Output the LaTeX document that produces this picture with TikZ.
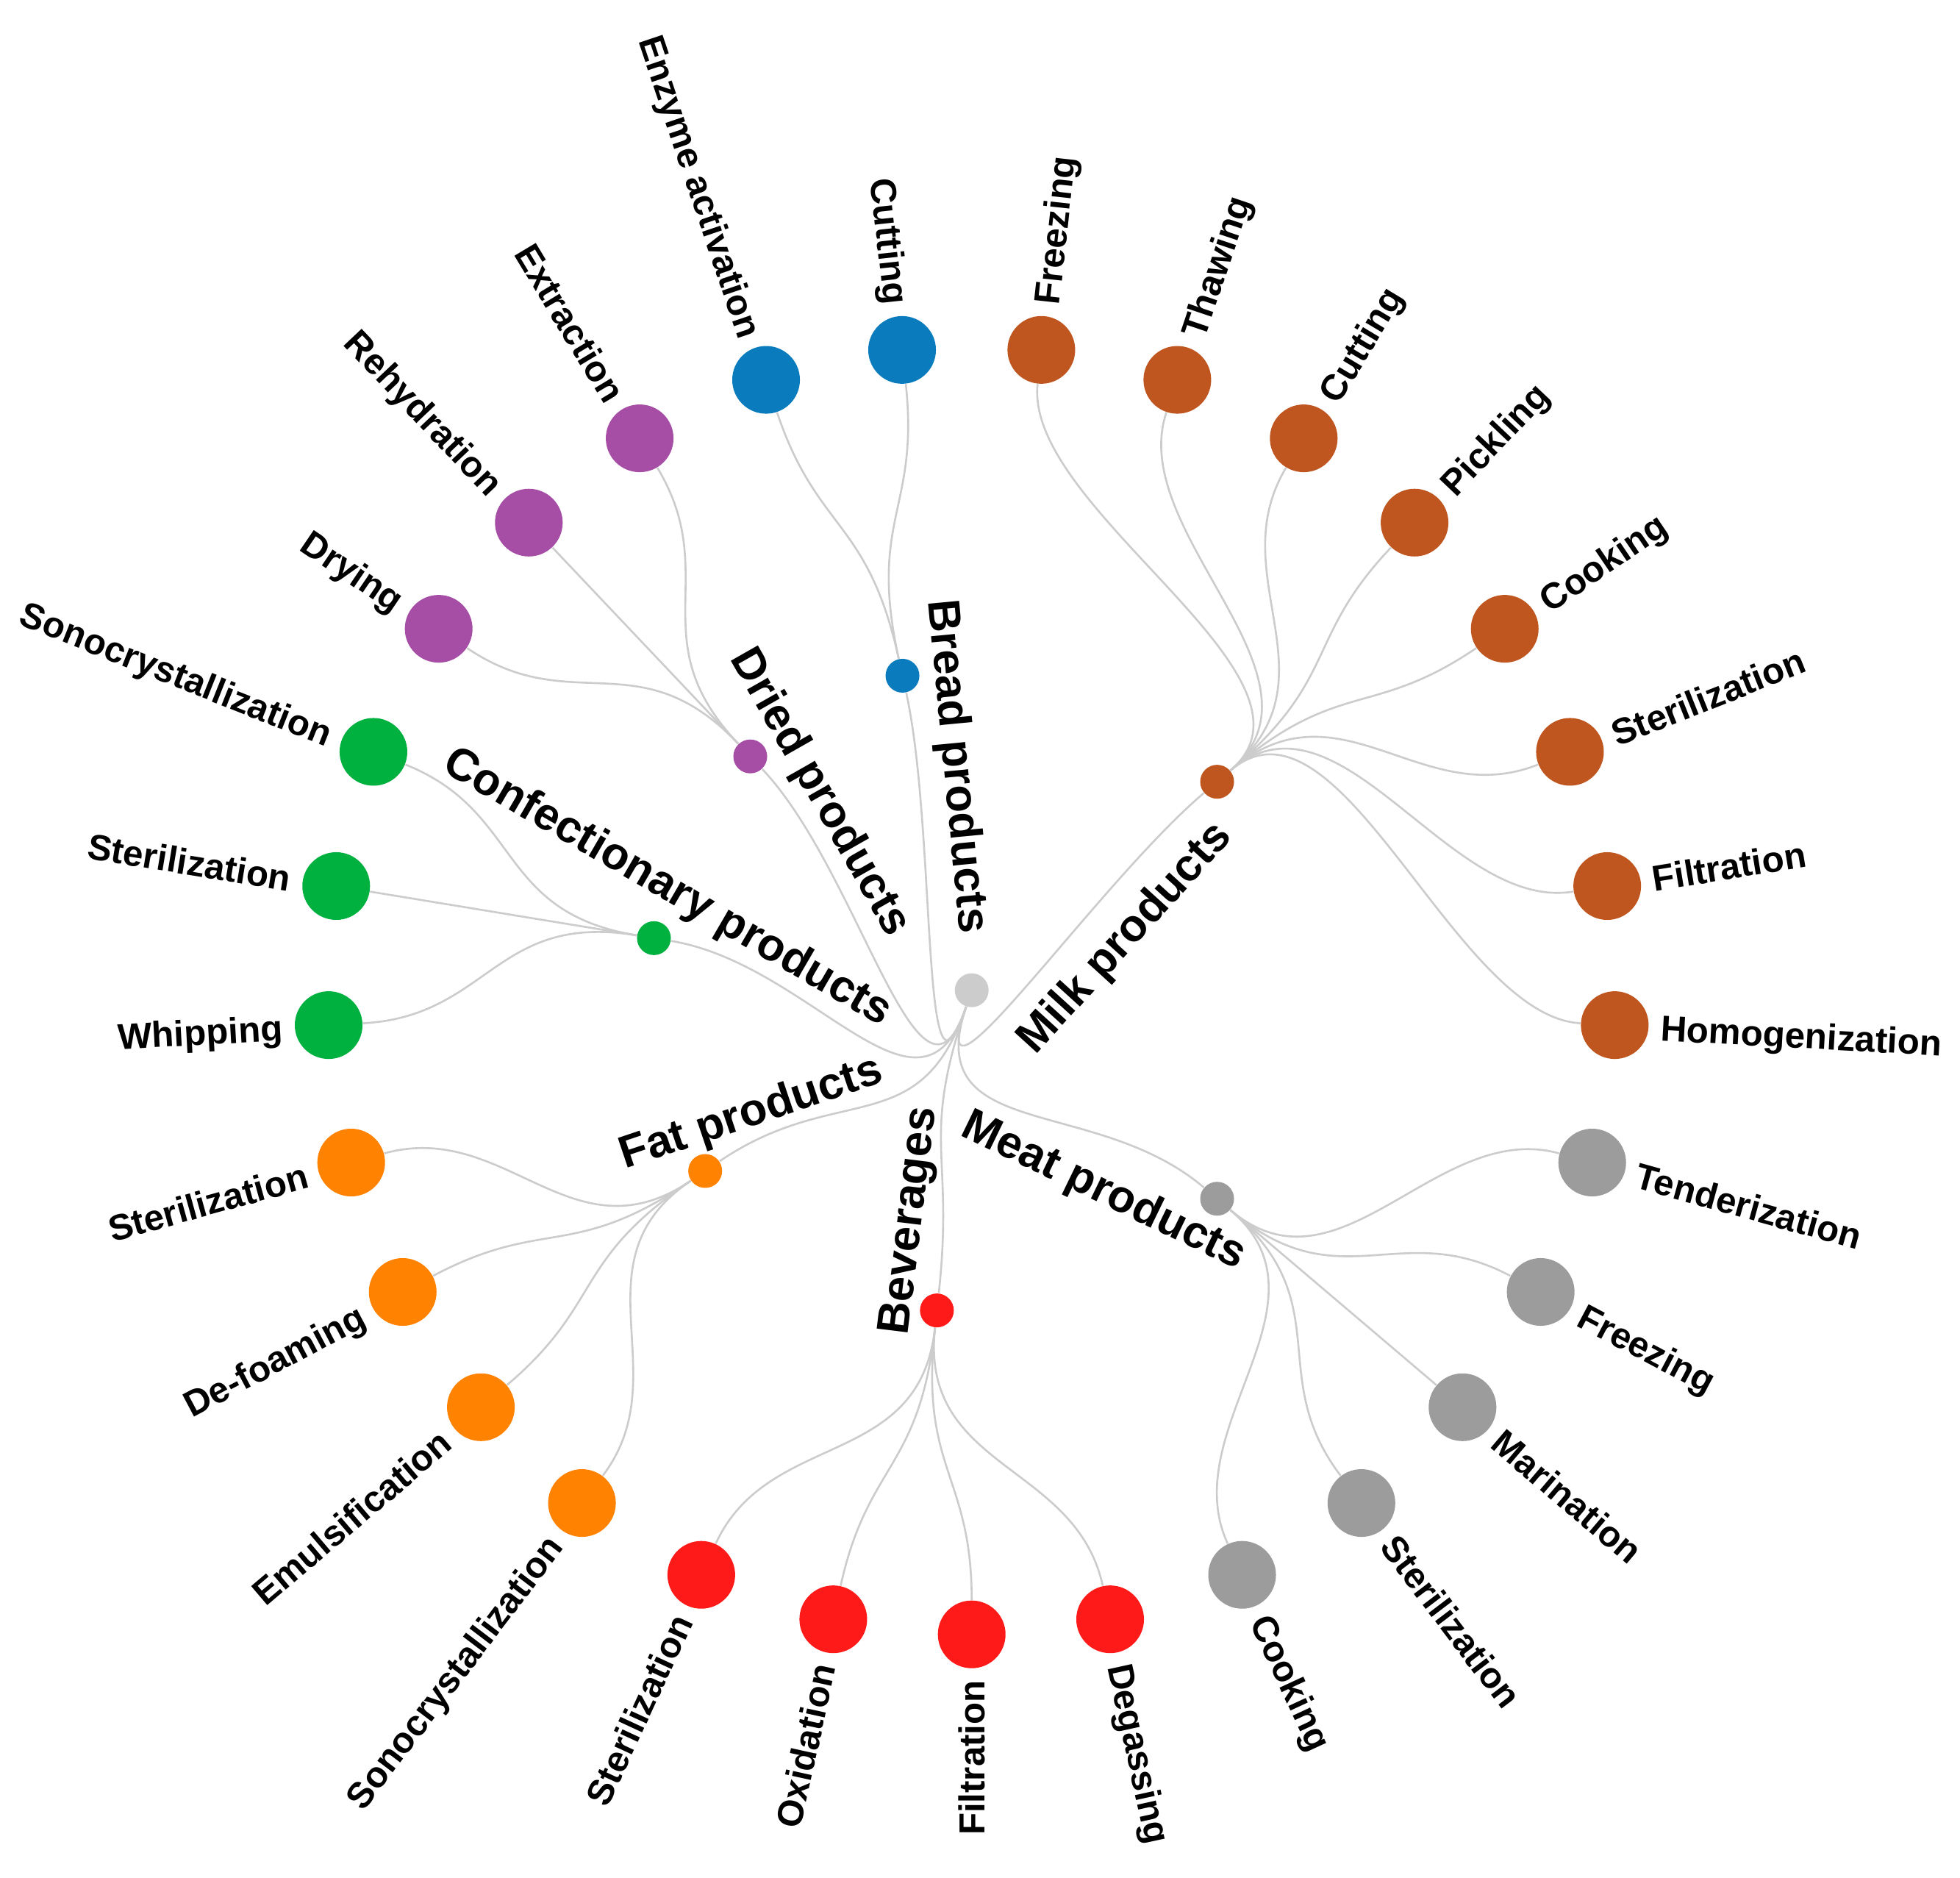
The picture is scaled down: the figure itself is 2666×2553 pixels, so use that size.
\documentclass[tikz,border=0pt]{standalone}
\usepackage{fontspec}
\setmainfont{Liberation Sans}
\usetikzlibrary{calc,backgrounds}
\definecolor{cmilk}{HTML}{C0561F}
\definecolor{cmeat}{HTML}{9C9C9C}
\definecolor{cbev}{HTML}{FF1A1A}
\definecolor{cfat}{HTML}{FF8200}
\definecolor{cconf}{HTML}{00B140}
\definecolor{cdried}{HTML}{A64DA6}
\definecolor{cbread}{HTML}{0A7CBD}
\definecolor{croot}{HTML}{CCCCCC}
\definecolor{clink}{HTML}{CCCCCC}
\newcommand{\spc}{12.4137931}
\begin{document}
\begin{tikzpicture}[x=0.01cm,y=0.01cm,
  leafdot/.style={circle,inner sep=0pt,minimum size=0.92cm,fill=#1},
  hubdot/.style={circle,inner sep=0pt,minimum size=0.46cm,fill=#1},
  linkline/.style={draw=clink,line width=0.026cm},
  leaflab/.style={font=\bfseries\fontsize{14pt}{16pt}\selectfont,inner sep=0pt,text height=10.1pt,text depth=0pt},
  grouplab/.style={font=\bfseries\fontsize{17.5pt}{20pt}\selectfont,inner sep=0pt,text height=12.6pt,text depth=0pt,anchor=center}]
\useasboundingbox (0,0) rectangle (2666,2553);
\begin{pgfonlayer}{background}
\fill[white] (0,0) rectangle (2666,2553);
\end{pgfonlayer}
\coordinate (C) at (1321.7,1206.3);
\node[hubdot=croot] (root) at (C) {};
% group hubs and root links
\foreach \grp/\gi in {milk/3.5, meat/10, bev/14.5, fat/18.5, conf/22, dried/25, bread/27.5}{
  \pgfmathsetmacro{\am}{90-(\gi+0.5)*\spc}
  \node[hubdot=c\grp] (\grp) at ($(C)+(\am:438)$) {};
  \begin{pgfonlayer}{background}
  \draw[linkline] (root) .. controls ($(C)+(-108.62:219)$) and ($(C)+(\am:219)$) .. (\grp);
  \end{pgfonlayer}
}
% leaves
\foreach \n/\lbl/\grp/\gi in {
  0/Freezing/milk/3.5, 1/Thawing/milk/3.5, 2/Cutting/milk/3.5, 3/Pickling/milk/3.5,
  4/Cooking/milk/3.5, 5/Sterilization/milk/3.5, 6/Filtration/milk/3.5, 7/Homogenization/milk/3.5,
  8/Tenderization/meat/10, 9/Freezing/meat/10, 10/Marination/meat/10, 11/Sterilization/meat/10, 12/Cooking/meat/10,
  13/Degassing/bev/14.5, 14/Filtration/bev/14.5, 15/Oxidation/bev/14.5, 16/Sterilization/bev/14.5,
  17/Sonocrystallization/fat/18.5, 18/Emulsification/fat/18.5, 19/De-foaming/fat/18.5, 20/Sterilization/fat/18.5,
  21/Whipping/conf/22, 22/Sterilization/conf/22, 23/Sonocrystallization/conf/22,
  24/Drying/dried/25, 25/Rehydration/dried/25, 26/Extraction/dried/25,
  27/Enzyme activation/bread/27.5, 28/Cutting/bread/27.5}{
  \pgfmathsetmacro{\a}{90-(\n+0.5)*\spc}
  \pgfmathsetmacro{\am}{90-(\gi+0.5)*\spc}
  \pgfmathsetmacro{\b}{\a+180}
  \node[leafdot=c\grp] (leaf\n) at ($(C)+(\a:876)$) {};
  \ifnum\n<14
    \node[leaflab,anchor=west,rotate=\a] (t\n) at ($(C)+(\a:938)$) {\lbl};
  \else
    \node[leaflab,anchor=east,rotate=\b] (t\n) at ($(C)+(\a:938)$) {\lbl};
  \fi
  \begin{pgfonlayer}{background}
  \draw[linkline] (\grp) .. controls ($(C)+(\am:657)$) and ($(C)+(\a:657)$) .. (leaf\n);
  \end{pgfonlayer}
}
% group labels
\node[grouplab,rotate=-84.6] (lbread) at (1306.2,1511) {Bread products};
\node[grouplab,rotate=-60.4] (ldried) at (1120,1478) {Dried products};
\node[grouplab,rotate=-30.2] (lconf) at (910.5,1350.5) {Confectionary products};
\node[grouplab,rotate=18.6] (lfat) at (1020,1043.5) {Fat products};
\node[grouplab,rotate=83] (lbev) at (1231.7,893.5) {Beverages};
\node[grouplab,rotate=-25.9] (lmeat) at (1503.7,938) {Meat products};
\node[grouplab,rotate=47.7] (lmilk) at (1526.7,1280.5) {Milk products};
\end{tikzpicture}
\end{document}
